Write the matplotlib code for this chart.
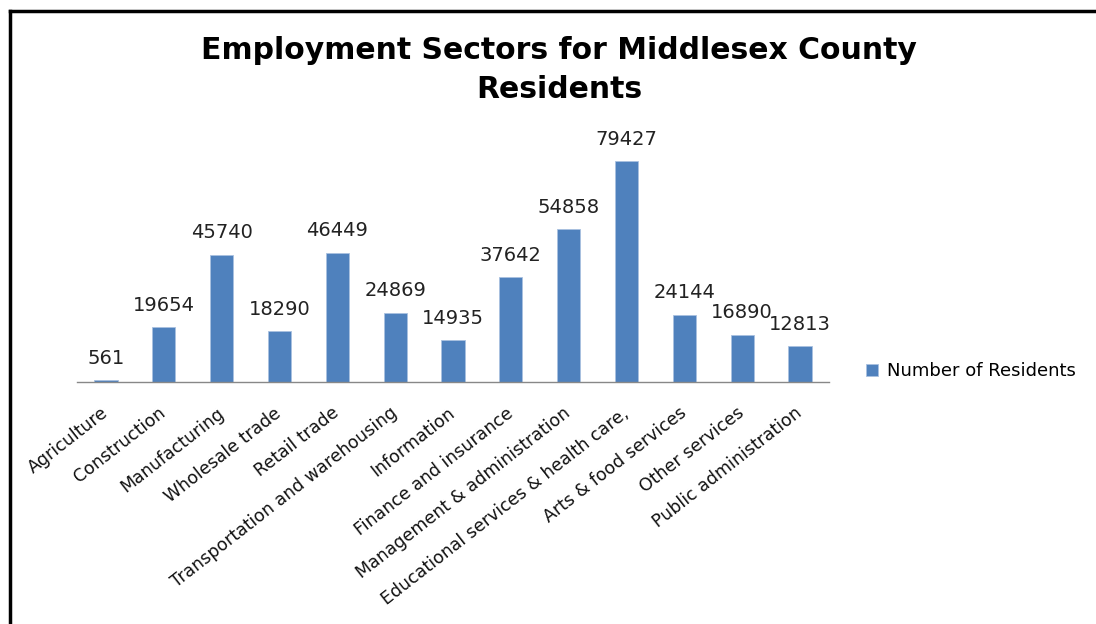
import matplotlib.pyplot as plt
from matplotlib.lines import Line2D

# Residents by employment sector
sectors = [
    "Agriculture",
    "Construction",
    "Manufacturing",
    "Wholesale trade",
    "Retail trade",
    "Transportation and warehousing",
    "Information",
    "Finance and insurance",
    "Management & administration",
    "Educational services & health care,",
    "Arts & food services",
    "Other services",
    "Public administration",
]
residents = [561, 19654, 45740, 18290, 46449, 24869, 14935,
             37642, 54858, 79427, 24144, 16890, 12813]

BAR_COLOR = "#4F81BD"

fig = plt.figure(figsize=(10.96, 6.24), dpi=100)
ax = fig.add_axes([0.0703, 0.388, 0.686, 0.401])

x = list(range(len(sectors)))
bars = ax.bar(x, residents, width=0.4, color=BAR_COLOR,
              edgecolor="#A9C1E0", linewidth=0.6, label="Number of Residents")

for xi, v in zip(x, residents):
    ax.annotate(str(v), (xi, v), xytext=(0, 9), textcoords="offset points",
                ha="center", va="bottom", fontsize=14, color="#222222")

ax.set_xlim(-0.5, len(sectors) - 0.5)
ax.set_ylim(0, 90000)
ax.set_yticks([])
ax.set_xticks(x)
ax.set_xticklabels(sectors, rotation=38, ha="right", va="center",
                   rotation_mode="anchor", fontsize=12.5, color="#111111")
ax.tick_params(axis="x", length=0, pad=21)
for side in ("top", "right", "left"):
    ax.spines[side].set_visible(False)
ax.spines["bottom"].set_color("#888888")
ax.spines["bottom"].set_linewidth(1)

fig.text(0.51, 0.888, "Employment Sectors for Middlesex County\nResidents",
         ha="center", va="center", fontsize=21.5, fontweight="bold",
         linespacing=1.45)

fig.legend(handles=[bars], loc="center left",
           bbox_to_anchor=(0.775, 0.405), frameon=False, fontsize=13,
           handlelength=0.7, handleheight=0.7, handletextpad=0.5)

# heavy frame along the left and top edges
fig.add_artist(Line2D([0.0087, 0.0087], [0.0, 0.982], transform=fig.transFigure,
                      color="black", linewidth=2.5, solid_capstyle="projecting"))
fig.add_artist(Line2D([0.0087, 0.9995], [0.982, 0.982], transform=fig.transFigure,
                      color="black", linewidth=2.5, solid_capstyle="projecting"))

fig.savefig("out.png", dpi=100, facecolor="white")
